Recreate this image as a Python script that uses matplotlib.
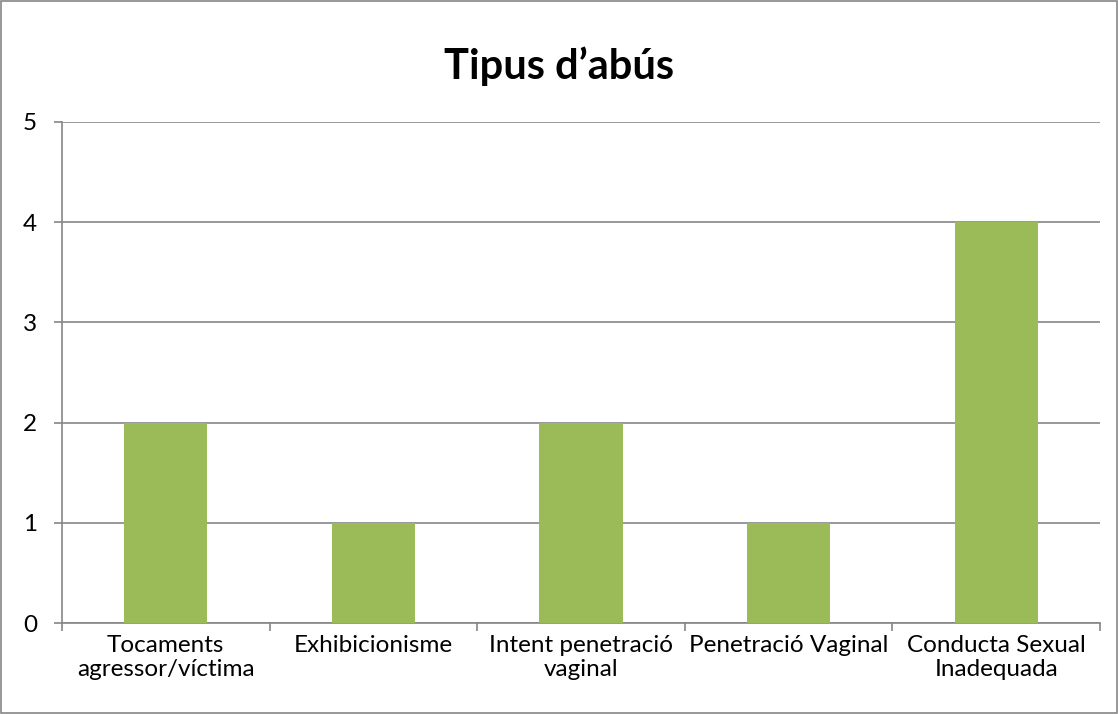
import matplotlib
matplotlib.use("Agg")
import matplotlib.pyplot as plt
import numpy as np
from matplotlib.patches import Rectangle

categories = [
    "Tocaments\nagressor/víctima",
    "Exhibicionisme",
    "Intent penetració\nvaginal",
    "Penetració Vaginal",
    "Conducta Sexual\nInadequada",
]
values = [2, 1, 2, 1, 4]
title = "Tipus d\u2019abús"

plt.rcParams["font.family"] = ["Lato", "DejaVu Sans"]

fig = plt.figure(figsize=(11.18, 7.14), dpi=100)
ax = fig.add_axes([62 / 1118, 1 - 623 / 714, (1100 - 62) / 1118, (623 - 122) / 714])

x = np.arange(len(categories))
ax.bar(x, values, width=0.4, color="#9BBB59", zorder=3)

ax.set_xlim(-0.5, len(categories) - 0.5)
ax.set_ylim(0, 5)
ax.set_yticks(range(0, 6))
ax.yaxis.grid(True, color="#868686", linewidth=1.2, zorder=0)

ax.set_xticks(x)
ax.set_xticklabels(categories, fontsize=17.5, linespacing=1.15)
ax.set_xticks(np.arange(-0.5, len(categories)), minor=True)
ax.tick_params(axis="x", which="major", length=0, pad=9)
ax.tick_params(axis="x", which="minor", length=6, color="#868686", width=1.2)
ax.tick_params(axis="y", length=6, color="#868686", width=1.2, labelsize=17.5, pad=12)

for side in ["top", "right"]:
    ax.spines[side].set_visible(False)
for side in ["left", "bottom"]:
    ax.spines[side].set_color("#868686")
    ax.spines[side].set_linewidth(1.2)

fig.text(0.5, 1 - 66 / 714, title, ha="center", va="center",
         fontsize=30, fontweight="bold")

fig.patches.append(Rectangle((0.001, 0.001), 0.998, 0.998, transform=fig.transFigure,
                             fill=False, edgecolor="#868686", linewidth=1.2))

fig.savefig("out.png", dpi=100)
